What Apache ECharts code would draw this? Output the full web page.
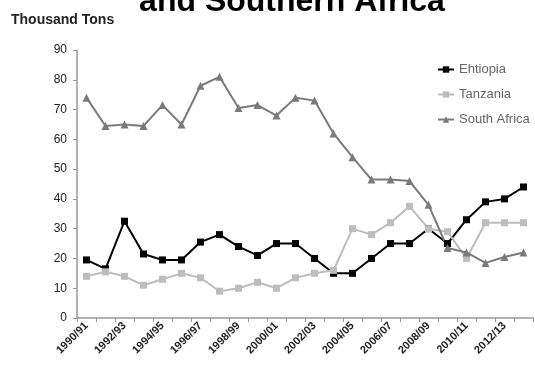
<!DOCTYPE html>
<html>
<head>
<meta charset="utf-8">
<script src="https://cdn.jsdelivr.net/npm/echarts@6/dist/echarts.min.js"></script>
<style>
  html, body { margin: 0; padding: 0; background: #fff; }
  #chart { width: 535px; height: 376px; }
</style>
</head>
<body>
<div id="chart"></div>
<script>
// Marketing years shown on the category axis
const seasons = [
  '1990/91', '1991/92', '1992/93', '1993/94', '1994/95', '1995/96',
  '1996/97', '1997/98', '1998/99', '1999/00', '2000/01', '2001/02',
  '2002/03', '2003/04', '2004/05', '2005/06', '2006/07', '2007/08',
  '2008/09', '2009/10', '2010/11', '2011/12', '2012/13', '2013/14'
];

// Production, thousand tons
const ethiopia = [19.5, 16.5, 32.5, 21.5, 19.5, 19.5, 25.5, 28, 24, 21, 25, 25,
                  20, 15, 15, 20, 25, 25, 30, 25, 33, 39, 40, 44];
const tanzania = [14, 15.5, 14, 11, 13, 15, 13.5, 9, 10, 12, 10, 13.5,
                  15, 16, 30, 28, 32, 37.5, 30, 29, 20, 32, 32, 32];
const southAfrica = [74, 64.5, 65, 64.5, 71.5, 65, 78, 81, 70.5, 71.5, 68, 74,
                     73, 62, 54, 46.5, 46.5, 46, 38, 23.5, 22, 18.5, 20.5, 22];

const yTicks = { min: 0, max: 90, interval: 10 };

const chart = echarts.init(document.getElementById('chart'), null, { renderer: 'canvas' });

const lineSeries = (name, data, color, symbol, size) => ({
  name: name,
  type: 'line',
  data: data,
  symbol: symbol,
  symbolSize: size,
  showSymbol: true,
  lineStyle: { color: color, width: 2 },
  itemStyle: { color: color, borderWidth: 0 },
  emphasis: { disabled: true },
  animation: false
});

chart.setOption({
  backgroundColor: '#ffffff',
  animation: false,
  graphic: [
    {
      type: 'text',
      x: 292, y: 18,
      style: {
        text: 'and Southern Africa',
        font: 'bold 32px "Liberation Sans", Arial, sans-serif',
        fill: '#000',
        align: 'center',
        verticalAlign: 'bottom'
      }
    },
    {
      type: 'text',
      x: 11, y: 20,
      style: {
        text: 'Thousand Tons',
        font: 'bold 14px "Liberation Sans", Arial, sans-serif',
        fill: '#222',
        align: 'left',
        verticalAlign: 'middle'
      }
    }
  ],
  legend: {
    orient: 'vertical',
    left: 432,
    top: 58,
    itemGap: 12,
    itemWidth: 16,
    itemHeight: 8,
    textStyle: {
      color: '#666',
      fontSize: 13,
      fontFamily: '"Liberation Sans", Arial, sans-serif'
    },
    data: ['Ehtiopia', 'Tanzania', 'South Africa']
  },
  grid: { left: 77, right: 2, top: 50, bottom: 58, containLabel: false },
  xAxis: {
    type: 'category',
    data: seasons,
    boundaryGap: true,
    axisLine: { lineStyle: { color: '#999', width: 1.5 } },
    axisTick: { show: true, length: 4, lineStyle: { color: '#999' }, interval: 0 },
    axisLabel: {
      interval: 1,
      rotate: 45,
      color: '#222',
      fontSize: 11,
      fontWeight: 'bold',
      fontFamily: '"Liberation Sans", Arial, sans-serif',
      margin: 6
    },
    splitLine: { show: false }
  },
  yAxis: {
    type: 'value',
    min: yTicks.min,
    max: yTicks.max,
    interval: yTicks.interval,
    axisLine: { show: true, lineStyle: { color: '#999', width: 1.5 } },
    axisTick: { show: true, length: 4, lineStyle: { color: '#999' } },
    axisLabel: {
      color: '#222',
      fontSize: 12,
      fontFamily: '"Liberation Sans", Arial, sans-serif',
      margin: 10
    },
    splitLine: { show: false }
  },
  series: [
    lineSeries('Ehtiopia', ethiopia, '#000000', 'rect', 7),
    lineSeries('Tanzania', tanzania, '#bdbdbd', 'rect', 7),
    lineSeries('South Africa', southAfrica, '#7a7a7a', 'triangle', 8)
  ]
});
</script>
</body>
</html>
